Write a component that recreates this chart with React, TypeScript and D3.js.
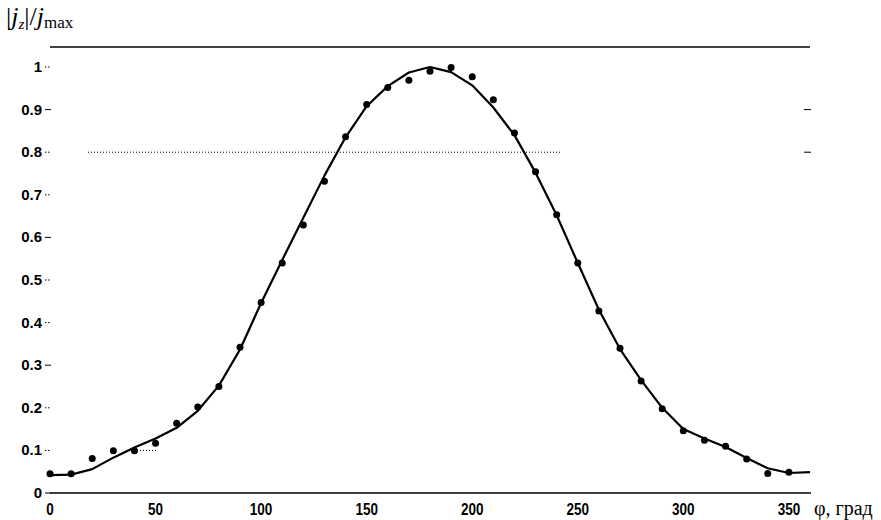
import React from "react";
import * as d3 from "d3";

const phiPoints = [0,10,20,30,40,50,60,70,80,90,100,110,120,130,140,150,160,170,180,190,200,210,220,230,240,250,260,270,280,290,300,310,320,330,340,350];
const pointValues = [0.045,0.045,0.081,0.099,0.099,0.117,0.164,0.202,0.250,0.342,0.447,0.540,0.629,0.732,0.836,0.912,0.952,0.969,0.990,0.999,0.977,0.923,0.845,0.754,0.653,0.540,0.427,0.340,0.263,0.198,0.146,0.124,0.110,0.080,0.046,0.049];

const phiLine = [0,10,20,30,40,50,60,70,80,90,100,110,120,130,140,150,160,170,180,190,200,210,220,230,240,250,260,270,280,290,300,310,320,330,340,350,360];
const lineValues = [0.042,0.043,0.056,0.083,0.107,0.128,0.153,0.193,0.252,0.337,0.446,0.547,0.646,0.745,0.835,0.908,0.955,0.987,1.0,0.988,0.957,0.905,0.840,0.752,0.652,0.540,0.430,0.338,0.265,0.200,0.150,0.128,0.108,0.082,0.058,0.047,0.049];

const xTicks = [0,50,100,150,200,250,300,350];
const yTicks = [0,0.1,0.2,0.3,0.4,0.5,0.6,0.7,0.8,0.9,1];
const yTickLabels = ["0","0.1","0.2","0.3","0.4","0.5","0.6","0.7","0.8","0.9","1"];

const W = 881, H = 520;
const x = d3.scaleLinear().domain([0, 360]).range([50, 810]);
const y = d3.scaleLinear().domain([0, 1]).range([493, 67]);

export default function App() {
  const line = d3.line<number>().x((d, i) => x(phiLine[i])).y((d) => y(d)).curve(d3.curveLinear);
  const sans = "'Liberation Sans', Arial, sans-serif";
  const serif = "'Liberation Serif', 'Times New Roman', serif";
  const xLabelY = 515;
  return (
    <svg width={W} height={H} style={{ position: "absolute", left: 0, top: 0, background: "#fff" }}>
      <rect x={0} y={0} width={W} height={H} fill="#fff" />
      {/* top frame line */}
      <line x1={50} x2={810} y1={47} y2={47} stroke="#000" strokeWidth={1.5} />
      {/* partial dotted grid */}
      <line x1={88} x2={560} y1={y(0.8)} y2={y(0.8)} stroke="#000" strokeWidth={1} strokeDasharray="1,2" />
      <line x1={140} x2={158} y1={y(0.1)} y2={y(0.1)} stroke="#000" strokeWidth={1} strokeDasharray="1,2" />
      {/* bottom axis */}
      <line x1={50} x2={811} y1={y(0)} y2={y(0)} stroke="#000" strokeWidth={1.5} />
      {/* y ticks */}
      {yTicks.map((t, i) => (
        <g key={"y" + i}>
          <line x1={45} x2={51} y1={y(t)} y2={y(t)} stroke="#000" strokeWidth={1} strokeDasharray={i % 3 === 0 ? "none" : "1.5,1.5"} />
          <text x={42} y={y(t) + 5} textAnchor="end" fontFamily={sans} fontWeight="bold" fontSize={15} fill="#000">{yTickLabels[i]}</text>
        </g>
      ))}
      {/* right ticks */}
      {[0.9, 0.8].map((t) => (
        <line key={"r" + t} x1={804} x2={811} y1={y(t)} y2={y(t)} stroke="#000" strokeWidth={1} />
      ))}
      {/* x tick labels */}
      {xTicks.map((t) => (
        <text key={"x" + t} x={0} y={0} textAnchor="middle" fontFamily={sans} fontWeight="bold" fontSize={15} fill="#000" transform={`translate(${x(t)},${xLabelY}) scale(0.9,1.08)`}>{t}</text>
      ))}
      <text x={814} y={515} fontFamily={serif} fontSize={20} fill="#000">φ, град</text>
      {/* y title */}
      <text x={6} y={25} fontFamily={serif} fontSize={26} fill="#000">
        <tspan>|</tspan>
        <tspan fontStyle="italic">j</tspan>
        <tspan fontStyle="italic" fontSize={15} dy={4}>z</tspan>
        <tspan dy={-4}>|</tspan>
        <tspan>/</tspan>
        <tspan fontStyle="italic">j</tspan>
        <tspan fontSize={17} dy={3}>max</tspan>
      </text>
      {/* curve */}
      <path d={line(lineValues) || ""} fill="none" stroke="#000" strokeWidth={2.2} strokeLinejoin="round" />
      {/* points */}
      {pointValues.map((v, i) => (
        <circle key={"p" + i} cx={x(phiPoints[i])} cy={y(v)} r={3.5} fill="#000" />
      ))}
    </svg>
  );
}
